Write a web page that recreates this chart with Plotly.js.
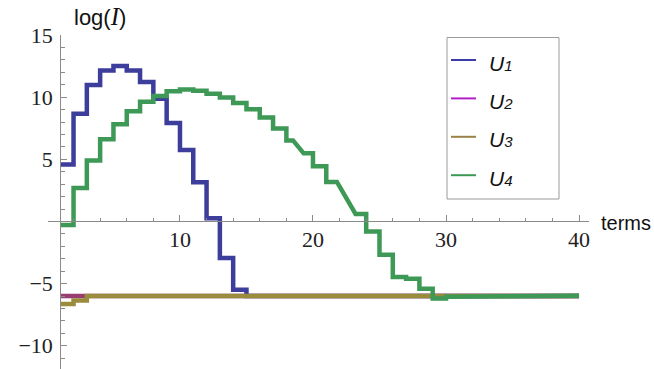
<!DOCTYPE html>
<html>
<head>
<meta charset="utf-8">
<script src="https://cdn.plot.ly/plotly-3.0.1.min.js"></script>
<style>
  html, body { margin: 0; padding: 0; background: #fff; }
  #chart { width: 654px; height: 369px; }
</style>
</head>
<body>
<div id="chart"></div>
<script>
// Number of terms kept in the expansion
const terms = [1, 2, 3, 4, 5, 6, 7, 8, 9, 10,
               11, 12, 13, 14, 15, 16, 17, 18, 19, 20,
               21, 22, 23, 24, 25, 26, 27, 28, 29, 30,
               31, 32, 33, 34, 35, 36, 37, 38, 39, 40];

// log(I) for each integrand
const u1 = [4.58, 8.66, 10.97, 12.15, 12.5, 12.15, 11.22, 9.88, 7.92, 5.74,
            3.15, 0.26, -2.95, -5.5, -6.0, -6.0, -6.0, -6.0, -6.0, -6.0,
            -6.0, -6.0, -6.0, -6.0, -6.0, -6.0, -6.0, -6.0, -6.0, -6.0,
            -6.0, -6.0, -6.0, -6.0, -6.0, -6.0, -6.0, -6.0, -6.0, -6.0];
const u2 = [-6.0, -6.0, -6.0, -6.0, -6.0, -6.0, -6.0, -6.0, -6.0, -6.0,
            -6.0, -6.0, -6.0, -6.0, -6.0, -6.0, -6.0, -6.0, -6.0, -6.0,
            -6.0, -6.0, -6.0, -6.0, -6.0, -6.0, -6.0, -6.0, -6.0, -6.0,
            -6.0, -6.0, -6.0, -6.0, -6.0, -6.0, -6.0, -6.0, -6.0, -6.0];
const u3 = [-6.65, -6.35, -6.0, -6.0, -6.0, -6.0, -6.0, -6.0, -6.0, -6.0,
            -6.0, -6.0, -6.0, -6.0, -6.0, -6.0, -6.0, -6.0, -6.0, -6.0,
            -6.0, -6.0, -6.0, -6.0, -6.0, -6.0, -6.0, -6.0, -6.0, -6.0,
            -6.0, -6.0, -6.0, -6.0, -6.0, -6.0, -6.0, -6.0, -6.0, -6.0];
const u4 = [-0.28, 2.7, 4.9, 6.62, 7.82, 8.86, 9.62, 10.1, 10.47, 10.62,
            10.52, 10.28, 9.98, 9.52, 9.02, 8.36, 7.48, 6.52, 5.48, 4.45,
            3.18, 1.9, 0.6, -0.8, -2.68, -4.47, -4.6, -5.42, -6.2, -6.06,
            -5.97, -5.97, -5.97, -5.97, -5.97, -5.97, -5.97, -5.97, -5.97, -5.97];

const seriesNames = ['U1', 'U2', 'U3', 'U4'];
const seriesLabels = ['U<span style="font-size:15px">1</span>',
                      'U<span style="font-size:15px">2</span>',
                      'U<span style="font-size:15px">3</span>',
                      'U<span style="font-size:15px">4</span>'];

// Axis ticks
const xTicks = [10, 20, 30, 40];
const yTicks = [-10, -5, 5, 10, 15];

// Styling
const lineColors = ['#3d3d9c', '#993d71', '#998c3d', '#3d9955'];
const keyColors = ['#3c3ca8', '#b41ec8', '#9a8246', '#3c9a55'];
const axisGrey = '#8a8a8a';
const xRange = [0.08, 40.75];
const yRange = [-11.87, 15];
const yAxisAt = 1;   // vertical axis crosses at the first term
const xAxisAt = 0;   // horizontal axis crosses at log(I) = 0
const serif = 'Liberation Serif';
const sans = 'Liberation Sans';

// Jumps that the sampled curve crosses with a straight slant instead of a riser
const slants = { U4: [[18.5, 19.3], [21.8, 23.2]] };

// Turn per-term values into the vertices of a step curve (value held until the next term)
function stepPath(xs, ys, cuts) {
  let px = [], py = [];
  for (let i = 0; i < xs.length; i++) {
    if (i > 0) { px.push(xs[i]); py.push(ys[i - 1]); }
    px.push(xs[i]); py.push(ys[i]);
  }
  const valueAt = x => {
    let v = ys[0];
    for (let i = 0; i < xs.length; i++) if (xs[i] <= x) v = ys[i];
    return v;
  };
  (cuts || []).forEach(([a, b]) => {
    const nx = [], ny = [];
    let placed = false;
    for (let k = 0; k < px.length; k++) {
      if (px[k] < a) { nx.push(px[k]); ny.push(py[k]); }
      else if (px[k] > b) {
        if (!placed) { nx.push(a, b); ny.push(valueAt(a), valueAt(b)); placed = true; }
        nx.push(px[k]); ny.push(py[k]);
      }
    }
    px = nx; py = ny;
  });
  return { x: px, y: py };
}

const seriesValues = [u1, u2, u3, u4];
const traces = seriesValues.map((vals, i) => {
  const p = stepPath(terms, vals, slants[seriesNames[i]]);
  return {
    type: 'scatter', mode: 'lines', name: seriesNames[i],
    x: p.x, y: p.y,
    line: { color: lineColors[i], width: 4.5 },
    showlegend: false, hoverinfo: 'skip'
  };
});

// Page geometry
const W = 654, H = 369;
const M = { l: 48, r: 65, t: 35, b: 0 };
const PW = W - M.l - M.r, PH = H - M.t - M.b;
const fx = px => (px - M.l) / PW;
const fy = py => (H - M.b - py) / PH;

// Key box with line samples and labels
const shapes = [{
  type: 'rect', xref: 'paper', yref: 'paper',
  x0: fx(447), x1: fx(559), y0: fy(199), y1: fy(37.5),
  line: { color: '#9a9a9a', width: 1 }, fillcolor: 'rgba(255,255,255,0)'
}];
const annotations = [];
seriesLabels.forEach((lab, i) => {
  const yc = 60 + 38.4 * i;
  shapes.push({
    type: 'line', xref: 'paper', yref: 'paper',
    x0: fx(451), x1: fx(476), y0: fy(yc), y1: fy(yc),
    line: { color: keyColors[i], width: 2 }
  });
  annotations.push({
    xref: 'paper', yref: 'paper', x: fx(487), y: fy(yc + 3),
    xanchor: 'left', yanchor: 'middle', showarrow: false,
    text: '<i>' + lab + '</i>',
    font: { family: sans, size: 21, color: '#111' }
  });
});

// Axis titles
annotations.push({
  xref: 'paper', yref: 'paper', x: fx(72), y: fy(17),
  xanchor: 'left', yanchor: 'middle', showarrow: false,
  text: 'log(<span style="font-family:\'Liberation Serif\';font-size:25px"><i>I</i></span>)',
  font: { family: sans, size: 22, color: '#111' }
});
annotations.push({
  xref: 'paper', yref: 'y', x: fx(599), y: 0, yshift: -2,
  xanchor: 'left', yanchor: 'middle', showarrow: false,
  text: 'terms',
  font: { family: sans, size: 20, color: '#111' }
});

const tickFont = { family: serif, size: 22, color: '#222' };

const layout = {
  width: W, height: H,
  margin: M,
  paper_bgcolor: '#fff', plot_bgcolor: '#fff',
  showlegend: false,
  font: { family: sans },
  xaxis: {
    range: xRange, anchor: 'free',
    position: (xAxisAt - yRange[0]) / (yRange[1] - yRange[0]),
    showline: true, linecolor: axisGrey, linewidth: 1,
    showgrid: false, zeroline: false,
    tickmode: 'array', tickvals: xTicks,
    ticks: 'inside', ticklen: 6, tickcolor: axisGrey, tickwidth: 1,
    minor: { ticks: 'inside', ticklen: 3.5, tickcolor: axisGrey, tickmode: 'linear', tick0: 0, dtick: 2, showgrid: false },
    tickfont: tickFont, ticklabelstandoff: -2
  },
  yaxis: {
    range: yRange, anchor: 'free',
    position: (yAxisAt - xRange[0]) / (xRange[1] - xRange[0]),
    showline: true, linecolor: axisGrey, linewidth: 1,
    showgrid: false, zeroline: false,
    tickmode: 'array', tickvals: yTicks,
    ticks: 'inside', ticklen: 6, tickcolor: axisGrey, tickwidth: 1,
    minor: { ticks: 'inside', ticklen: 3.5, tickcolor: axisGrey, tickmode: 'linear', tick0: 0, dtick: 1, showgrid: false },
    tickfont: tickFont, ticklabelstandoff: 3
  },
  shapes: shapes,
  annotations: annotations
};

Plotly.newPlot('chart', traces, layout, { displayModeBar: false, staticPlot: true });
</script>
</body>
</html>
